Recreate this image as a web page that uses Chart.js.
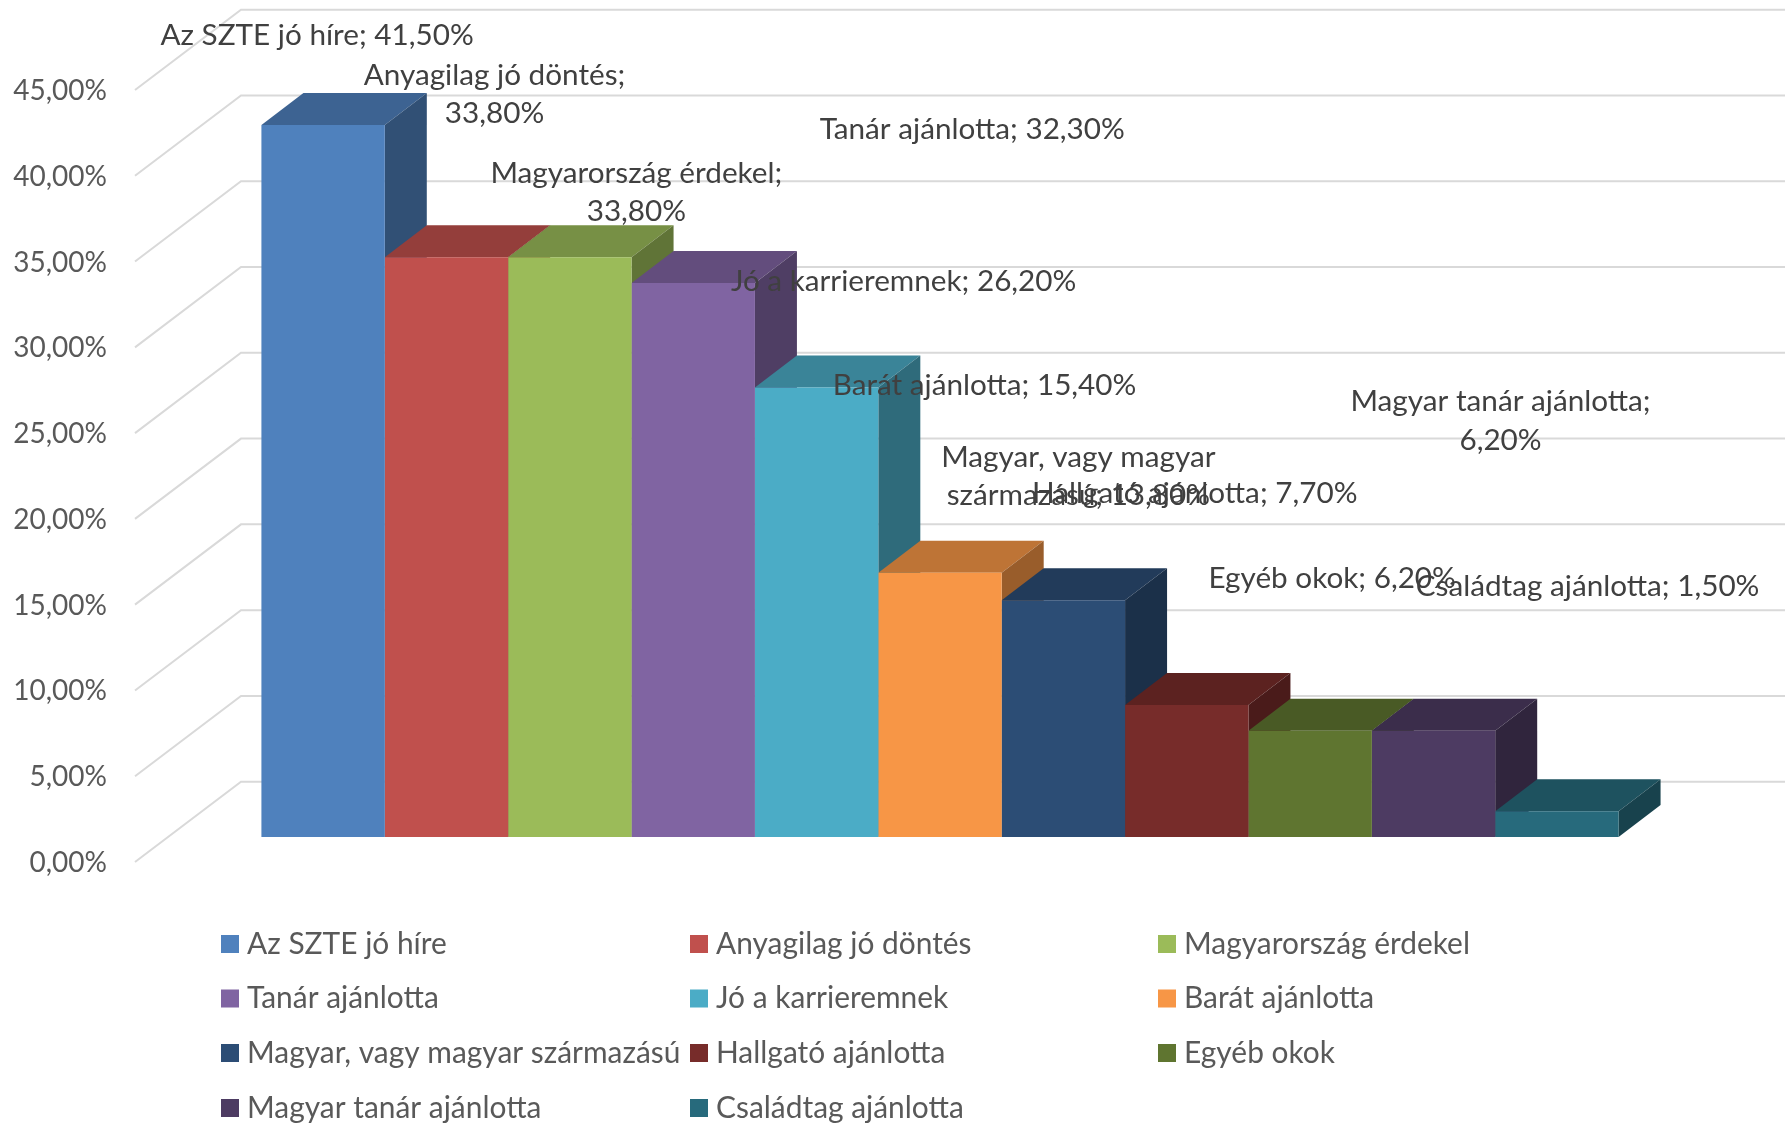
<!DOCTYPE html>
<html><head><meta charset="utf-8">
<style>html,body{margin:0;padding:0;background:#fff}canvas{display:block}</style>
<script src="https://cdn.jsdelivr.net/npm/chart.js@4"></script>
</head><body><canvas id="c" width="1789" height="1123"></canvas>
<script>
const categories = ['Okok'];
const seriesNames = ['Az SZTE jó híre','Anyagilag jó döntés','Magyarország érdekel','Tanár ajánlotta','Jó a karrieremnek','Barát ajánlotta','Magyar, vagy magyar származású','Hallgató ajánlotta','Egyéb okok','Magyar tanár ajánlotta','Családtag ajánlotta'];
const seriesValues = [41.5,33.8,33.8,32.3,26.2,15.4,13.8,7.7,6.2,6.2,1.5];
const seriesColors = ['#4F81BD','#C0504D','#9BBB59','#8064A2','#4BACC6','#F79646','#2C4D75','#772C2A','#5F7530','#4D3B62','#276A7C'];
const labelWraps = [null,'; ','; ',null,null,null,['Magyar, vagy magyar','származású; '],null,null,'; ',null];
const labelOffsets = [[-6,-90],[48,-162.5],[66.5,-64.5],[279,-153.7],[87,-106],[44.5,-187],[15,-123.7],[8,-211],[22,-152.6],[67,-309.6],[30.7,-224.8]];
const FONT = 'Lato';
const LABEL_SIZE = 29.7, TICK_SIZE = 28, LEGEND_SIZE = 29.9;
const fmt = v => v.toFixed(2).replace('.',',') + '%';
const shade = (hex,f) => { const n=parseInt(hex.slice(1),16);
  return `rgb(${Math.round((n>>16&255)*f)},${Math.round((n>>8&255)*f)},${Math.round((n&255)*f)})`; };

const wall = {frontDx:-33, frontDy:25, backDx:73, backDy:-55.3};
const depth = {dx:42, dy:-32};

const scene = {
  id:'scene',
  beforeDatasetsDraw(chart){
    const {ctx,chartArea:a,scales:{y}} = chart;
    ctx.save();
    ctx.strokeStyle='#D9D9D9'; ctx.lineWidth=2;
    y.ticks.forEach(t=>{
      const p=y.getPixelForValue(t.value);
      ctx.beginPath();
      ctx.moveTo(a.left+wall.frontDx,p+wall.frontDy);
      ctx.lineTo(a.left+wall.backDx,p+wall.backDy);
      ctx.lineTo(a.right+wall.backDx,p+wall.backDy);
      ctx.stroke();
    });
    chart.data.datasets.forEach((ds,i)=>{
      const b=chart.getDatasetMeta(i).data[0];
      const l=b.x-b.width/2, r=b.x+b.width/2, t=b.y, bot=b.base;
      const c=ds.backgroundColor;
      ctx.fillStyle=shade(c,.77);
      ctx.beginPath();ctx.moveTo(l,t);ctx.lineTo(l+depth.dx,t+depth.dy);ctx.lineTo(r+depth.dx,t+depth.dy);ctx.lineTo(r,t);ctx.closePath();ctx.fill();
      ctx.fillStyle=shade(c,.62);
      ctx.beginPath();ctx.moveTo(r,t);ctx.lineTo(r+depth.dx,t+depth.dy);ctx.lineTo(r+depth.dx,bot+depth.dy);ctx.lineTo(r,bot);ctx.closePath();ctx.fill();
    });
    ctx.restore();
  },
  afterDraw(chart){
    const {ctx} = chart;
    ctx.save();
    // data labels
    ctx.fillStyle='#404040'; ctx.font=`${LABEL_SIZE}px ${FONT}`; ctx.textAlign='center'; ctx.textBaseline='middle';
    chart.data.datasets.forEach((ds,i)=>{
      const b=chart.getDatasetMeta(i).data[0];
      const v=fmt(ds.data[0]); const w=labelWraps[i];
      let lines;
      if(w===null) lines=[`${ds.label}; ${v}`];
      else if(w==='; ') lines=[ds.label+';',v];
      else lines=[w[0],w[1]+v];
      const cx=b.x+labelOffsets[i][0], cy=b.y+labelOffsets[i][1];
      lines.forEach((s,k)=>ctx.fillText(s,cx,cy+(k-(lines.length-1)/2)*38.5));
    });
    // legend
    ctx.font=`${LEGEND_SIZE}px ${FONT}`; ctx.textAlign='left'; ctx.fillStyle='#595959';
    const cols=[221,690,1158], rows=[944,998.5,1053,1108];
    chart.data.datasets.forEach((ds,i)=>{
      const x=cols[i%3], y=rows[Math.floor(i/3)];
      ctx.fillStyle=ds.backgroundColor; ctx.fillRect(x,y-9,18,18);
      ctx.fillStyle='#595959'; ctx.fillText(ds.label,x+26,y);
    });
    ctx.restore();
  }
};

new Chart(document.getElementById('c'),{
  type:'bar',
  data:{labels:categories,datasets:seriesNames.map((n,i)=>({label:n,data:[seriesValues[i]],backgroundColor:seriesColors[i],borderWidth:0}))},
  options:{
    responsive:false,animation:false,
    layout:{padding:{left:0,top:65,right:77,bottom:286}},
    datasets:{bar:{categoryPercentage:0.879,barPercentage:1}},
    plugins:{legend:{display:false},tooltip:{enabled:false},title:{display:false}},
    scales:{
      x:{display:false},
      y:{min:0,max:45,grid:{display:false},border:{display:false},
        afterFit(s){s.width=168;s.paddingTop=0;s.paddingBottom=0;},
        ticks:{stepSize:5,autoSkip:false,padding:53,labelOffset:26,color:'#595959',font:{family:FONT,size:TICK_SIZE},callback:v=>fmt(v)}}
    }
  },
  plugins:[scene]
});
</script></body></html>
